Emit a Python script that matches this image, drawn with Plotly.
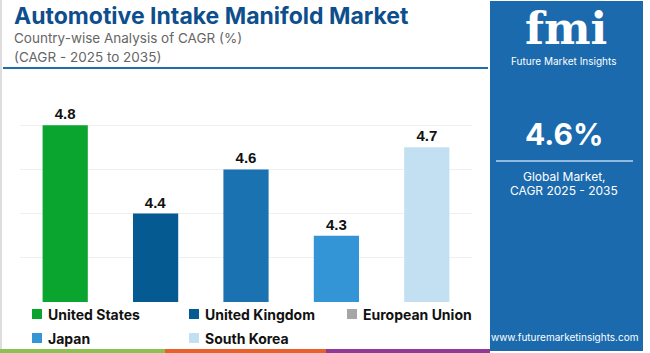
import plotly.graph_objects as go

# ---- data ----
countries = ["United States", "United Kingdom", "European Union", "Japan", "South Korea"]
cagr = [4.8, 4.4, 4.6, 4.3, 4.7]
bar_colors = ["#0aa52e", "#055a92", "#1a72b0", "#3394d6", "#c2e0f2"]
legend_colors = ["#0aa52e", "#055a92", "#a6a6a6", "#3394d6", "#c2e0f2"]
title_text = "Automotive Intake Manifold Market"
subtitle_lines = ["Country-wise Analysis of CAGR (%)", "(CAGR - 2025 to 2035)"]
global_cagr = "4.6%"
panel_lines = ["Global Market,", "CAGR 2025 - 2035"]
website = "www.futuremarketinsights.com"

W, H = 650, 353
L, R, T, B = 20, 472, 81, 302  # plot area in pixels


def px(x):
    return (x - L) / (R - L)


def py(y):
    return (B - y) / (B - T)


fig = go.Figure()
fig.add_trace(go.Bar(
    x=countries, y=cagr, marker=dict(color=bar_colors, line=dict(width=0)),
    text=[f"<b>{v:.1f}</b>" for v in cagr], textposition="outside",
    textfont=dict(family="Liberation Sans", size=15, color="#111111"),
    cliponaxis=False, showlegend=False, hoverinfo="skip",
))

shapes = []
annotations = []

# top blue separator line
shapes.append(dict(type="line", xref="paper", yref="paper", x0=px(3), x1=px(488),
                   y0=py(68), y1=py(68), line=dict(color="#1f6db0", width=2)))
# outer frame line (light gray)
shapes.append(dict(type="line", xref="paper", yref="paper", x0=px(1), x1=px(1),
                   y0=py(0), y1=py(350), line=dict(color="#dddddd", width=2)))
# bottom colored strip
for x0, x1, c in [(0, 165, "#8cc152"), (165, 326, "#e8612c"), (326, 490, "#8e3a96")]:
    shapes.append(dict(type="rect", xref="paper", yref="paper", x0=px(x0), x1=px(x1),
                       y0=py(353), y1=py(349), fillcolor=c, line=dict(width=0)))
# right panel
shapes.append(dict(type="rect", xref="paper", yref="paper", x0=px(490), x1=px(643),
                   y0=py(351), y1=py(1), fillcolor="#1b6aae", line=dict(width=0), layer="below"))
shapes.append(dict(type="line", xref="paper", yref="paper", x0=px(496), x1=px(633),
                   y0=py(161), y1=py(161), line=dict(color="#8fbbe0", width=2)))

# title & subtitle
annotations.append(dict(xref="paper", yref="paper", x=px(12), y=py(16), xanchor="left", yanchor="middle",
                        text=f"<b>{title_text}</b>", showarrow=False,
                        font=dict(family="Inter", size=23, color="#0d4f8c")))
for i, line in enumerate(subtitle_lines):
    annotations.append(dict(xref="paper", yref="paper", x=px(12), y=py(38 + 19 * i), xanchor="left",
                            yanchor="middle", text=line, showarrow=False,
                            font=dict(family="Inter", size=13.5, color="#666666")))

# legend (custom)
leg_pos = [(32, 314), (189, 314), (347, 314), (32, 338), (189, 338)]
for (lx, ly), name, col in zip(leg_pos, countries, legend_colors):
    shapes.append(dict(type="rect", xref="paper", yref="paper", x0=px(lx), x1=px(lx + 10),
                       y0=py(ly + 5), y1=py(ly - 5), fillcolor=col, line=dict(width=0)))
    annotations.append(dict(xref="paper", yref="paper", x=px(lx + 14), y=py(ly), xanchor="left",
                            yanchor="middle", text=f"<b>{name}</b>", showarrow=False,
                            font=dict(family="Inter", size=14, color="#111111")))

# panel text
annotations.append(dict(xref="paper", yref="paper", x=px(566), y=py(29), xanchor="center", yanchor="middle",
                        text="<b>fmi</b>", showarrow=False,
                        font=dict(family="DejaVu Serif", size=44, color="#ffffff")))
annotations.append(dict(xref="paper", yref="paper", x=px(563), y=py(61), xanchor="center", yanchor="middle",
                        text="Future Market Insights", showarrow=False,
                        font=dict(family="Inter", size=10, color="#ffffff")))
annotations.append(dict(xref="paper", yref="paper", x=px(564), y=py(134), xanchor="center", yanchor="middle",
                        text=f"<b>{global_cagr}</b>", showarrow=False,
                        font=dict(family="Inter", size=30, color="#ffffff")))
for i, line in enumerate(panel_lines):
    annotations.append(dict(xref="paper", yref="paper", x=px(564), y=py(176 + 14 * i), xanchor="center",
                            yanchor="middle", text=line, showarrow=False,
                            font=dict(family="Inter", size=12, color="#ffffff")))
annotations.append(dict(xref="paper", yref="paper", x=px(564), y=py(337), xanchor="center", yanchor="middle",
                        text=website, showarrow=False,
                        font=dict(family="Inter", size=10, color="#ffffff")))

fig.update_layout(
    width=W, height=H,
    margin=dict(l=L, r=W - R, t=T, b=H - B),
    paper_bgcolor="#ffffff", plot_bgcolor="#ffffff",
    bargap=0.5,
    xaxis=dict(showticklabels=False, showgrid=False, zeroline=False, showline=False, ticks=""),
    yaxis=dict(range=[4.0, 5.0], dtick=0.2, tick0=4.0, showticklabels=False, showgrid=True,
               gridcolor="#efefef", gridwidth=1, zeroline=False, showline=False, ticks=""),
    shapes=shapes, annotations=annotations,
)

fig.write_html("out.html")
